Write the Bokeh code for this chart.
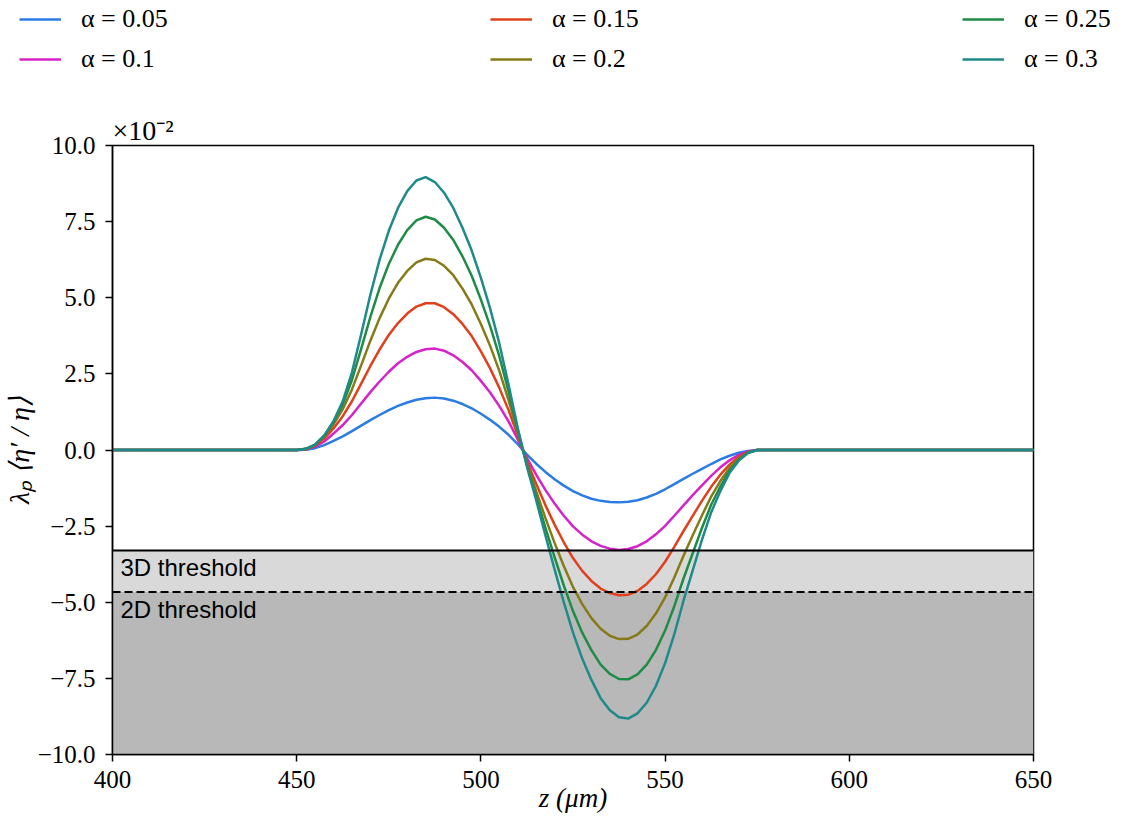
from bokeh.plotting import figure
from bokeh.models import Legend, LegendItem, Span, BoxAnnotation, Label, FixedTicker, Range1d
from bokeh.embed import file_html
from bokeh.resources import INLINE

# ---------------- data (values in units of 1e-2) ----------------
z = [400.0,
     450.0, 452.5, 455.0, 457.5, 460.0, 462.5, 465.0, 467.5, 470.0, 472.5,
     475.0, 477.5, 480.0, 482.5, 485.0, 487.5, 490.0, 492.5, 495.0, 497.5,
     500.0, 502.5, 505.0, 507.5, 510.0, 512.5, 515.0, 517.5, 520.0, 522.5,
     525.0, 527.5, 530.0, 532.5, 535.0, 537.5, 540.0, 542.5, 545.0, 547.5,
     550.0, 552.5, 555.0, 557.5, 560.0, 562.5, 565.0, 567.5, 570.0, 572.5,
     575.0,
     650.0]

alpha_labels = ["α = 0.05", "α = 0.1", "α = 0.15", "α = 0.2", "α = 0.25", "α = 0.3"]

a005 = [0.0,
        0.0, 0.01, 0.06, 0.16, 0.30, 0.45, 0.62, 0.80, 0.98, 1.15,
        1.31, 1.45, 1.56, 1.65, 1.70, 1.72, 1.69, 1.62, 1.51, 1.37,
        1.19, 0.99, 0.76, 0.50, 0.19, -0.15, -0.45, -0.72, -0.96, -1.17,
        -1.35, -1.49, -1.60, -1.67, -1.71, -1.72, -1.70, -1.65, -1.56, -1.44,
        -1.29, -1.12, -0.95, -0.78, -0.62, -0.46, -0.31, -0.19, -0.09, -0.03,
        0.0,
        0.0]
a010 = [0.0,
        0.0, 0.02, 0.11, 0.28, 0.54, 0.82, 1.15, 1.53, 1.90, 2.25,
        2.57, 2.85, 3.06, 3.22, 3.31, 3.33, 3.26, 3.11, 2.89, 2.62,
        2.27, 1.89, 1.44, 0.94, 0.35, -0.27, -0.81, -1.31, -1.76, -2.16,
        -2.51, -2.78, -3.00, -3.15, -3.24, -3.28, -3.25, -3.16, -3.00, -2.77,
        -2.49, -2.16, -1.82, -1.48, -1.16, -0.85, -0.57, -0.34, -0.16, -0.05,
        0.0,
        0.0]
a015 = [0.0,
        0.0, 0.03, 0.14, 0.38, 0.71, 1.11, 1.60, 2.18, 2.76, 3.30,
        3.78, 4.17, 4.48, 4.71, 4.82, 4.82, 4.69, 4.46, 4.14, 3.74,
        3.24, 2.68, 2.04, 1.31, 0.48, -0.37, -1.11, -1.81, -2.45, -3.03,
        -3.55, -3.97, -4.30, -4.55, -4.70, -4.77, -4.75, -4.63, -4.40, -4.08,
        -3.67, -3.18, -2.66, -2.16, -1.67, -1.21, -0.81, -0.48, -0.23, -0.07,
        0.0,
        0.0]
a020 = [0.0,
        0.0, 0.03, 0.16, 0.44, 0.84, 1.34, 1.99, 2.78, 3.59, 4.33,
        4.97, 5.49, 5.88, 6.16, 6.28, 6.24, 6.05, 5.74, 5.30, 4.78,
        4.14, 3.42, 2.60, 1.64, 0.58, -0.45, -1.35, -2.23, -3.05, -3.81,
        -4.50, -5.06, -5.52, -5.87, -6.10, -6.21, -6.20, -6.06, -5.78, -5.37,
        -4.84, -4.19, -3.47, -2.80, -2.15, -1.53, -1.02, -0.59, -0.28, -0.08,
        0.0,
        0.0]
a025 = [0.0,
        0.0, 0.04, 0.18, 0.47, 0.92, 1.50, 2.30, 3.32, 4.37, 5.32,
        6.11, 6.74, 7.22, 7.54, 7.66, 7.57, 7.30, 6.90, 6.36, 5.72,
        4.94, 4.07, 3.08, 1.92, 0.66, -0.51, -1.53, -2.55, -3.52, -4.45,
        -5.29, -6.00, -6.57, -7.05, -7.35, -7.52, -7.53, -7.37, -7.05, -6.57,
        -5.93, -5.13, -4.22, -3.39, -2.56, -1.80, -1.20, -0.68, -0.32, -0.09,
        0.0,
        0.0]
a030 = [0.0,
        0.0, 0.04, 0.18, 0.48, 0.95, 1.60, 2.55, 3.80, 5.10, 6.25,
        7.20, 7.95, 8.50, 8.85, 8.96, 8.80, 8.45, 7.95, 7.30, 6.55,
        5.65, 4.65, 3.50, 2.15, 0.72, -0.55, -1.65, -2.80, -3.92, -5.00,
        -6.00, -6.85, -7.55, -8.15, -8.55, -8.78, -8.82, -8.65, -8.30, -7.75,
        -7.00, -6.05, -4.95, -3.95, -2.95, -2.05, -1.35, -0.75, -0.35, -0.10,
        0.0,
        0.0]

series = [a005, a010, a015, a020, a025, a030]
colors = ["#2a7be4", "#d622c9", "#e0401c", "#867a18", "#1f8c46", "#1f8a8a"]

threshold_3d = -3.30
threshold_2d = -4.66

x_ticks = [400, 450, 500, 550, 600, 650]
x_tick_labels = ["400", "450", "500", "550", "600", "650"]
y_ticks = [-10.0, -7.5, -5.0, -2.5, 0.0, 2.5, 5.0, 7.5, 10.0]
y_tick_labels = ["−10.0", "−7.5", "−5.0", "−2.5", "0.0", "2.5", "5.0", "7.5", "10.0"]

SERIF = "Liberation Serif"
SANS = "Liberation Sans"
LW = 2.5

LEG_H = 100
FRAME_TOP = 145

# ---------------- legend strip (separate root above the plot) ----------------
ITEM_H = 29
SPACING = 10
lf = figure(width=1132, height=LEG_H, x_range=Range1d(0, 1), y_range=Range1d(0, 1),
            output_backend="svg", toolbar_location=None,
            x_axis_location=None, y_axis_location=None, min_border=0)
lf.grid.visible = False
lf.outline_line_color = None
lf.border_fill_color = "white"
lf.background_fill_color = "white"

# same series, drawn outside this strip's visible range: they only feed the legend glyphs
leg_renderers = [lf.line(z, ys, line_color=c, line_width=LW) for ys, c in zip(series, colors)]
legend_x = [19, 490, 962]
legend_bottom = LEG_H - 6 - (2 * ITEM_H + SPACING)
for col in range(3):
    items = [LegendItem(label=alpha_labels[2 * col + k], renderers=[leg_renderers[2 * col + k]])
             for k in range(2)]
    leg = Legend(items=items, location=(legend_x[col], legend_bottom),
                 orientation="vertical", spacing=SPACING, padding=0, margin=0,
                 border_line_alpha=0, background_fill_alpha=0,
                 label_text_font=SERIF, label_text_font_size="26px",
                 label_text_color="black", label_height=ITEM_H,
                 glyph_width=42, glyph_height=20, label_standoff=20)
    lf.add_layout(leg, "center")

# ---------------- main plot ----------------
p = figure(width=1132, height=821 - LEG_H, x_range=(400, 650), y_range=(-10, 10),
           output_backend="svg", toolbar_location=None,
           min_border_left=111, min_border_right=99,
           min_border_top=FRAME_TOP - LEG_H, min_border_bottom=67)
p.xgrid.visible = False
p.ygrid.visible = False
p.outline_line_color = "black"
p.outline_line_width = 1.5
p.outline_line_alpha = 1.0
p.background_fill_color = "white"
p.border_fill_color = "white"

p.title.text = "×10⁻²"
p.title.align = "left"
p.title.text_font = SERIF
p.title.text_font_size = "28px"
p.title.text_font_style = "normal"
p.title.text_color = "black"
p.title.standoff = 0

# shaded threshold regions
p.add_layout(BoxAnnotation(top=threshold_3d, bottom=threshold_2d, fill_color="#d9d9d9",
                           fill_alpha=1.0, line_alpha=0, level="underlay"))
p.add_layout(BoxAnnotation(top=threshold_2d, bottom=-10, fill_color="#b8b8b8",
                           fill_alpha=1.0, line_alpha=0, level="underlay"))

for ys, c in zip(series, colors):
    p.line(z, ys, line_color=c, line_width=LW, line_join="round")

p.add_layout(Span(location=threshold_3d, dimension="width", line_color="black", line_width=2))
p.add_layout(Span(location=threshold_2d, dimension="width", line_color="black", line_width=2,
                  line_dash="8 4"))

p.add_layout(Label(x=400, y=threshold_3d, x_offset=8, y_offset=-4, text="3D threshold",
                   text_baseline="top", text_font=SANS, text_font_size="24px", text_color="black"))
p.add_layout(Label(x=400, y=threshold_2d, x_offset=8, y_offset=-4, text="2D threshold",
                   text_baseline="top", text_font=SANS, text_font_size="24px", text_color="black"))

# axes
for ax in (p.xaxis[0], p.yaxis[0]):
    ax.axis_line_width = 1.5
    ax.major_tick_line_width = 1.5
    ax.major_tick_out = 7
    ax.major_tick_in = 0
    ax.minor_tick_out = 0
    ax.minor_tick_in = 0
    ax.major_label_text_font = SERIF
    ax.major_label_text_font_size = "25px"
    ax.major_label_text_color = "black"
    ax.axis_label_text_font = SERIF
    ax.axis_label_text_font_style = "italic"
    ax.axis_label_text_color = "black"

p.xaxis.ticker = FixedTicker(ticks=x_ticks)
p.xaxis.major_label_overrides = {t: s for t, s in zip(x_ticks, x_tick_labels)}
p.xaxis.major_label_standoff = 9
p.xaxis.axis_label = "z (μm)"
p.xaxis.axis_label_text_font_size = "27px"
p.xaxis.axis_label_standoff = -8

p.yaxis.ticker = FixedTicker(ticks=y_ticks)
p.yaxis.major_label_overrides = {t: s for t, s in zip(y_ticks, y_tick_labels)}
p.yaxis.major_label_standoff = 10
p.yaxis.axis_label = "λₚ ⟨η′ / η⟩"
p.yaxis.axis_label_text_font_size = "28px"
p.yaxis.axis_label_standoff = 0

open("out.html", "w").write(file_html([lf, p], INLINE))
